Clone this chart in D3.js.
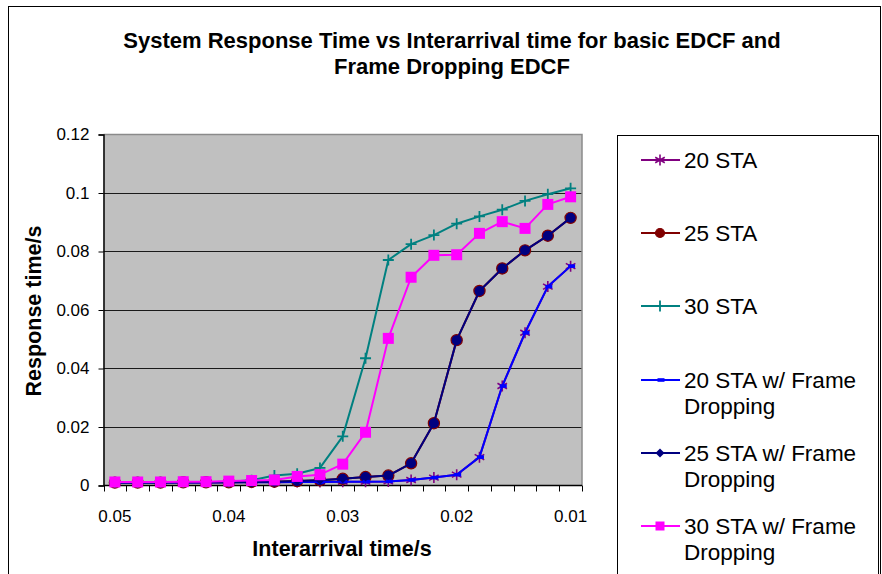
<!DOCTYPE html>
<html>
<head>
<meta charset="utf-8">
<script src="https://cdn.jsdelivr.net/npm/d3@7"></script>
<style>
  html, body { margin: 0; padding: 0; background: #fff; }
  svg { display: block; font-family: Arial, "Liberation Sans", Helvetica, sans-serif; }
</style>
</head>
<body>
<svg id="chart" width="882" height="574"></svg>
<script>
// Interarrival time categories (s), 0.05 down to 0.01 in steps of 0.002
const categories = [0.05, 0.048, 0.046, 0.044, 0.042, 0.04, 0.038, 0.036, 0.034, 0.032,
                    0.03, 0.028, 0.026, 0.024, 0.022, 0.02, 0.018, 0.016, 0.014, 0.012, 0.01];
const xTickLabels = ["0.05", "0.04", "0.03", "0.02", "0.01"];
const yTickValues = [0, 0.02, 0.04, 0.06, 0.08, 0.1, 0.12];
const yTickLabels = ["0", "0.02", "0.04", "0.06", "0.08", "0.1", "0.12"];

// Response time (s) for each series
const sta20   = [0.0010, 0.0010, 0.0010, 0.0010, 0.0010, 0.0011, 0.0011, 0.0011, 0.0012, 0.0012, 0.0013,
                 0.0013, 0.0014, 0.0019, 0.0027, 0.0037, 0.0097, 0.0340, 0.0522, 0.0680, 0.0750];
const sta25   = [0.0010, 0.0010, 0.0010, 0.0011, 0.0011, 0.0011, 0.0012, 0.0013, 0.0015, 0.0018, 0.0023,
                 0.0029, 0.0034, 0.0076, 0.0213, 0.0497, 0.0665, 0.0742, 0.0804, 0.0854, 0.0915];
const sta30   = [0.0011, 0.0011, 0.0011, 0.0012, 0.0012, 0.0013, 0.0018, 0.0034, 0.0040, 0.0060, 0.0168,
                 0.0435, 0.0771, 0.0825, 0.0856, 0.0895, 0.0920, 0.0943, 0.0973, 0.0996, 0.1016];
const sta20fd = [0.0010, 0.0010, 0.0010, 0.0010, 0.0010, 0.0011, 0.0011, 0.0011, 0.0012, 0.0012, 0.0013,
                 0.0013, 0.0014, 0.0019, 0.0027, 0.0037, 0.0097, 0.0340, 0.0522, 0.0680, 0.0750];
const sta25fd = [0.0010, 0.0010, 0.0010, 0.0011, 0.0011, 0.0011, 0.0012, 0.0013, 0.0015, 0.0018, 0.0023,
                 0.0029, 0.0034, 0.0076, 0.0213, 0.0497, 0.0665, 0.0742, 0.0804, 0.0854, 0.0915];
const sta30fd = [0.0012, 0.0012, 0.0012, 0.0013, 0.0013, 0.0015, 0.0017, 0.0019, 0.0031, 0.0037, 0.0073,
                 0.0182, 0.0503, 0.0712, 0.0787, 0.0789, 0.0862, 0.0902, 0.0879, 0.0961, 0.0987];

const seriesNames = ["20 STA", "25 STA", "30 STA", "20 STA w/ Frame Dropping",
                     "25 STA w/ Frame Dropping", "30 STA w/ Frame Dropping"];

const series = [
  { name: seriesNames[0], values: sta20,   color: "#800080", marker: "star" },
  { name: seriesNames[1], values: sta25,   color: "#800000", marker: "circle" },
  { name: seriesNames[2], values: sta30,   color: "#008080", marker: "plus" },
  { name: seriesNames[3], values: sta20fd, color: "#0000FF", marker: "dash" },
  { name: seriesNames[4], values: sta25fd, color: "#000080", marker: "diamond" },
  { name: seriesNames[5], values: sta30fd, color: "#FF00FF", marker: "square" }
];

const svg = d3.select("#chart");

// chart frame
svg.append("rect").attr("x", 8.5).attr("y", 6.5).attr("width", 872).attr("height", 600)
  .attr("fill", "#fff").attr("stroke", "#000").attr("stroke-width", 1);

const plot = { left: 103.5, right: 582, top: 134.5, bottom: 485.5 };

const x = d3.scaleBand().domain(categories).range([plot.left, plot.right]).padding(0);
const cx = d => x(d) + x.bandwidth() / 2;
const y = d3.scaleLinear().domain([0, 0.12]).range([plot.bottom, plot.top]);

// plot area background
svg.append("rect")
  .attr("x", plot.left).attr("y", plot.top)
  .attr("width", plot.right - plot.left).attr("height", plot.bottom - plot.top)
  .attr("fill", "#C0C0C0");

// horizontal gridlines
svg.append("g").selectAll("line")
  .data(yTickValues.filter(v => v > 0 && v < 0.12))
  .join("line")
  .attr("x1", plot.left).attr("x2", plot.right)
  .attr("y1", d => Math.round(y(d)) + 0.5).attr("y2", d => Math.round(y(d)) + 0.5)
  .attr("stroke", "#1a1a1a").attr("stroke-width", 1);

// top and right border of plot area
svg.append("path")
  .attr("d", `M${plot.left},${plot.top}H${plot.right}V${plot.bottom}`)
  .attr("fill", "none").attr("stroke", "#8a8a8a").attr("stroke-width", 1.5);

// y axis
const yAxis = d3.axisLeft(y).tickValues(yTickValues).tickSize(5).tickPadding(9)
  .tickFormat((d, i) => yTickLabels[i]);
const gy = svg.append("g").attr("transform", `translate(${plot.left},0)`).call(yAxis);
gy.select(".domain").attr("stroke", "#000").attr("stroke-width", 1.5);
gy.selectAll(".tick line").attr("stroke", "#000");
gy.selectAll(".tick text").attr("font-size", 17).attr("fill", "#000")
  .attr("font-family", "Arial, 'Liberation Sans', sans-serif");

// x axis: tick marks at category boundaries, labels every fifth category
const gx = svg.append("g");
gx.append("line").attr("x1", plot.left).attr("x2", plot.right)
  .attr("y1", plot.bottom).attr("y2", plot.bottom)
  .attr("stroke", "#000").attr("stroke-width", 1.5);
const boundaries = categories.map(c => x(c)).concat([x.range()[1]]);
gx.selectAll("line.tick").data(boundaries).join("line").attr("class", "tick")
  .attr("x1", d => Math.round(d) + 0.5).attr("x2", d => Math.round(d) + 0.5)
  .attr("y1", plot.bottom).attr("y2", plot.bottom + 6)
  .attr("stroke", "#000").attr("stroke-width", 1);
const labelled = categories.filter((c, i) => i % 5 === 0);
gx.selectAll("text").data(labelled).join("text")
  .attr("x", d => cx(d)).attr("y", plot.bottom + 36)
  .attr("text-anchor", "middle").attr("font-size", 17)
  .text((d, i) => xTickLabels[i]);

// line generator
const line = d3.line().x((d, i) => cx(categories[i])).y(d => y(d));

function drawMarker(g, type, color, px, py, legend) {
  if (type === "star") {
    const r = 5.5;
    g.append("path")
      .attr("d", `M${px},${py - r}V${py + r}M${px - r * 0.87},${py - r * 0.5}L${px + r * 0.87},${py + r * 0.5}` +
                 `M${px - r * 0.87},${py + r * 0.5}L${px + r * 0.87},${py - r * 0.5}`)
      .attr("stroke", color).attr("stroke-width", 1.6).attr("fill", "none");
  } else if (type === "circle") {
    g.append("circle").attr("cx", px).attr("cy", py).attr("r", legend ? 4.5 : 5.6)
      .attr("fill", legend ? color : "#000080").attr("stroke", color).attr("stroke-width", 1.2);
  } else if (type === "plus") {
    const r = 5.5;
    g.append("path").attr("d", `M${px - r},${py}H${px + r}M${px},${py - r}V${py + r}`)
      .attr("stroke", color).attr("stroke-width", 1.8).attr("fill", "none");
  } else if (type === "dash") {
    g.append("rect").attr("x", px - 2.5).attr("y", py - 1.8).attr("width", 7).attr("height", 3.6)
      .attr("fill", color);
  } else if (type === "diamond") {
    const r = 4.5;
    g.append("path").attr("d", `M${px},${py - r}L${px + r},${py}L${px},${py + r}L${px - r},${py}Z`)
      .attr("fill", color);
  } else if (type === "square") {
    const s = legend ? 9 : 11;
    g.append("rect").attr("x", px - s / 2).attr("y", py - s / 2).attr("width", s).attr("height", s)
      .attr("fill", color);
  }
}

// series lines and markers, in series order
series.forEach(s => {
  const g = svg.append("g");
  g.append("path").datum(s.values).attr("d", line)
    .attr("fill", "none").attr("stroke", s.color).attr("stroke-width", 2)
    .attr("stroke-linejoin", "round");
  s.values.forEach((v, i) => drawMarker(g, s.marker, s.color, cx(categories[i]), y(v), false));
});

// axis titles
svg.append("text").attr("x", 342).attr("y", 556).attr("text-anchor", "middle")
  .attr("font-size", 21.5).attr("font-weight", "bold").text("Interarrival time/s");
svg.append("text").attr("transform", "translate(41,311) rotate(-90)").attr("text-anchor", "middle")
  .attr("font-size", 21.5).attr("font-weight", "bold").text("Response time/s");

// chart title
const title = svg.append("text").attr("text-anchor", "middle").attr("font-size", 22).attr("font-weight", "bold");
title.append("tspan").attr("x", 452).attr("y", 48).text("System Response Time vs Interarrival time for basic EDCF and");
title.append("tspan").attr("x", 452).attr("y", 74).text("Frame Dropping EDCF");

// legend
const lg = svg.append("g");
lg.append("rect").attr("x", 617.5).attr("y", 135.5).attr("width", 261).attr("height", 460)
  .attr("fill", "#fff").attr("stroke", "#000").attr("stroke-width", 1);
const legendRows = [160, 233, 306, 380, 453, 526];
series.forEach((s, i) => {
  const ly = legendRows[i];
  lg.append("line").attr("x1", 641).attr("x2", 680).attr("y1", ly).attr("y2", ly)
    .attr("stroke", s.color).attr("stroke-width", 2);
  drawMarker(lg, s.marker, s.color, 660, ly, true);
  const words = s.name.split(" w/ ");
  const t = lg.append("text").attr("font-size", 22.5).attr("fill", "#000");
  if (words.length === 1) {
    t.append("tspan").attr("x", 684).attr("y", ly + 8).text(s.name);
  } else {
    t.append("tspan").attr("x", 684).attr("y", ly + 8).text(words[0] + " w/ Frame");
    t.append("tspan").attr("x", 684).attr("y", ly + 34).text("Dropping");
  }
});
</script>
</body>
</html>
